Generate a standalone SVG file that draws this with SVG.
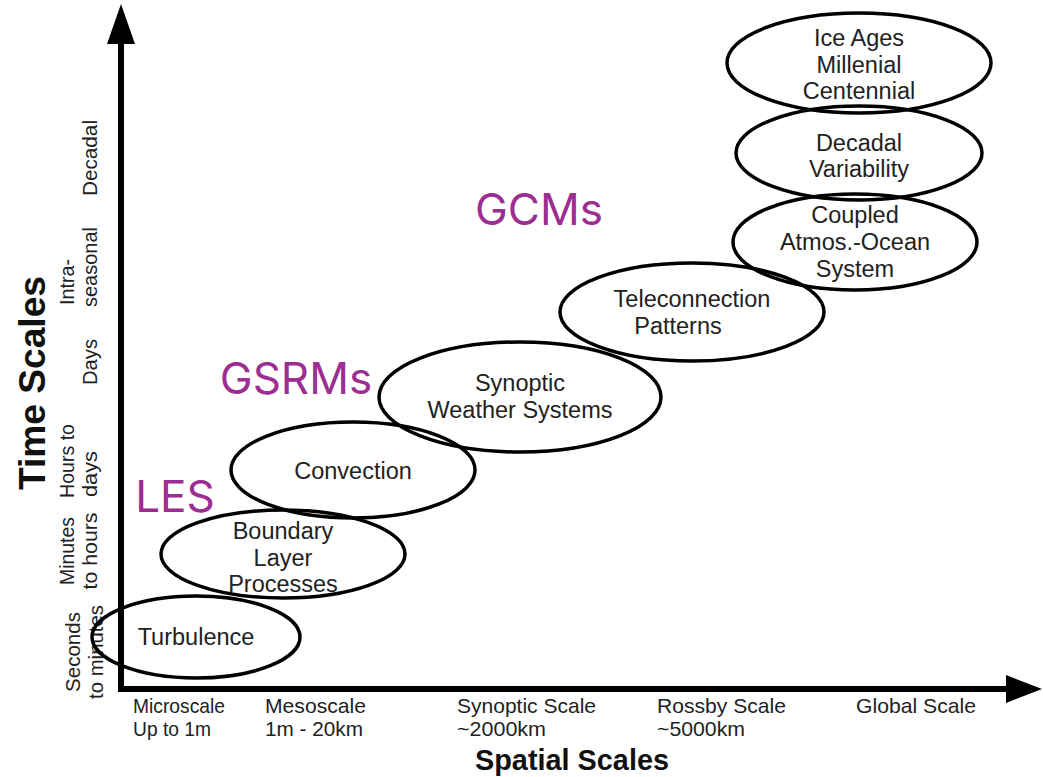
<svg xmlns="http://www.w3.org/2000/svg" width="1043" height="777" viewBox="0 0 1043 777">
<style>
.n ellipse{fill:none;stroke:#000;stroke-width:3.5}
.t{font-family:"Liberation Sans",Arial,sans-serif;font-size:23.5px;fill:#222;text-anchor:middle}
.m{font-family:Inter,"Liberation Sans",sans-serif;font-size:44px;fill:#9C2D91;text-anchor:middle}
.tick{font-family:"Liberation Sans",Arial,sans-serif;font-size:21px;fill:#222}
.ttl{font-family:"Liberation Sans",Arial,sans-serif;font-weight:bold;fill:#111}
</style>
<rect width="1043" height="777" fill="#fff"/>
<g id="axes">
<line x1="121" y1="30" x2="121" y2="692" stroke="#000" stroke-width="6"/>
<polygon points="121,4 107,44 135,44" fill="#000"/>
<line x1="118" y1="689" x2="1015" y2="689" stroke="#000" stroke-width="6"/>
<polygon points="1042,689 1006,675 1006,703" fill="#000"/>
</g>
<g id="y-labels" class="tick">
<g transform="translate(80,652) rotate(-90)"><text x="0" y="0" text-anchor="middle" textLength="80" lengthAdjust="spacingAndGlyphs">Seconds</text><text x="0" y="23" text-anchor="middle" textLength="94" lengthAdjust="spacingAndGlyphs">to minutes</text></g>
<g transform="translate(74,551) rotate(-90)"><text x="0" y="0" text-anchor="middle" textLength="68" lengthAdjust="spacingAndGlyphs">Minutes</text><text x="0" y="23" text-anchor="middle" textLength="77" lengthAdjust="spacingAndGlyphs">to hours</text></g>
<g transform="translate(74,461) rotate(-90)"><text x="0" y="0" text-anchor="middle" textLength="74" lengthAdjust="spacingAndGlyphs">Hours to</text><text x="-13" y="23" text-anchor="middle" textLength="46" lengthAdjust="spacingAndGlyphs">days</text></g>
<g transform="translate(97,362) rotate(-90)"><text x="0" y="0" text-anchor="middle" textLength="46" lengthAdjust="spacingAndGlyphs">Days</text></g>
<g transform="translate(74,267) rotate(-90)"><text x="-15" y="0" text-anchor="middle" textLength="46" lengthAdjust="spacingAndGlyphs">Intra-</text><text x="0" y="23" text-anchor="middle" textLength="80" lengthAdjust="spacingAndGlyphs">seasonal</text></g>
<g transform="translate(97,158) rotate(-90)"><text x="0" y="0" text-anchor="middle" textLength="76" lengthAdjust="spacingAndGlyphs">Decadal</text></g>
</g>
<text class="ttl" font-size="37" transform="translate(45,383) rotate(-90)" text-anchor="middle" textLength="214" lengthAdjust="spacingAndGlyphs">Time Scales</text>
<g id="x-labels" class="tick">
<text x="133" y="713" textLength="92" lengthAdjust="spacingAndGlyphs">Microscale</text>
<text x="133" y="736" textLength="78" lengthAdjust="spacingAndGlyphs">Up to 1m</text>
<text x="265" y="713" textLength="101" lengthAdjust="spacingAndGlyphs">Mesoscale</text>
<text x="265" y="736" textLength="98" lengthAdjust="spacingAndGlyphs">1m - 20km</text>
<text x="457" y="713" textLength="139" lengthAdjust="spacingAndGlyphs">Synoptic Scale</text>
<text x="457" y="736" textLength="89" lengthAdjust="spacingAndGlyphs">~2000km</text>
<text x="657" y="713" textLength="129" lengthAdjust="spacingAndGlyphs">Rossby Scale</text>
<text x="657" y="736" textLength="88" lengthAdjust="spacingAndGlyphs">~5000km</text>
<text x="856" y="713" textLength="120" lengthAdjust="spacingAndGlyphs">Global Scale</text>
</g>
<text class="ttl" font-size="30" x="572" y="770" text-anchor="middle" textLength="194" lengthAdjust="spacingAndGlyphs">Spatial Scales</text>
<g id="turbulence" class="n"><ellipse cx="196" cy="637" rx="104" ry="41"/><text class="t" x="196" y="645">Turbulence</text></g>
<g id="boundary" class="n"><ellipse cx="283" cy="554" rx="122" ry="44"/><text class="t" x="283" y="539">Boundary</text><text class="t" x="283" y="566">Layer</text><text class="t" x="283" y="592">Processes</text></g>
<g id="convection" class="n"><ellipse cx="353" cy="470" rx="122" ry="48"/><text class="t" x="353" y="479">Convection</text></g>
<g id="synoptic" class="n"><ellipse cx="520" cy="397" rx="141" ry="55"/><text class="t" x="520" y="391">Synoptic</text><text class="t" x="520" y="418">Weather Systems</text></g>
<g id="teleconnection" class="n"><ellipse cx="692" cy="312" rx="132" ry="49"/><text class="t" x="692" y="307">Teleconnection</text><text class="t" x="678" y="334">Patterns</text></g>
<g id="coupled" class="n"><ellipse cx="855" cy="242" rx="122" ry="48"/><text class="t" x="855" y="223">Coupled</text><text class="t" x="855" y="250">Atmos.-Ocean</text><text class="t" x="855" y="277">System</text></g>
<g id="decadal" class="n"><ellipse cx="859" cy="153" rx="123" ry="47"/><text class="t" x="859" y="151">Decadal</text><text class="t" x="859" y="177">Variability</text></g>
<g id="iceages" class="n"><ellipse cx="859" cy="63" rx="132" ry="50"/><text class="t" x="859" y="46">Ice Ages</text><text class="t" x="859" y="73">Millenial</text><text class="t" x="859" y="99">Centennial</text></g>
<g id="models">
<text class="m" x="539" y="225">GCMs</text>
<text class="m" x="296" y="394">GSRMs</text>
<text class="m" x="175" y="512">LES</text>
</g>
</svg>
